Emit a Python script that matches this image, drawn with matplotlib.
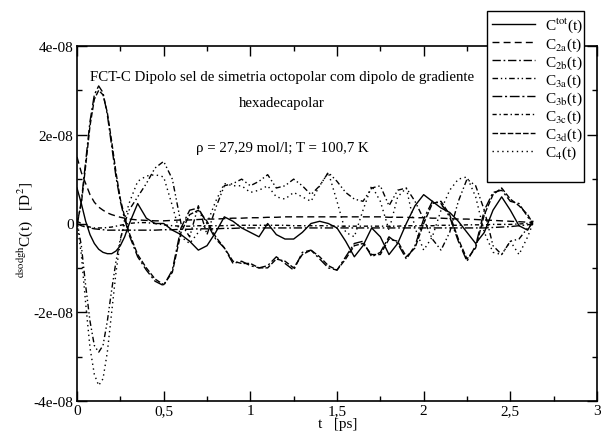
import matplotlib
matplotlib.use('Agg')
import matplotlib.pyplot as plt
from matplotlib.patches import Rectangle

plt.rcParams['font.family'] = ['Liberation Serif', 'DejaVu Serif']
plt.rcParams['mathtext.fontset'] = 'stix'

SCALE = 1e-8
t = [0, 0.025, 0.05, 0.075, 0.1, 0.125, 0.15, 0.175, 0.2, 0.225, 0.25, 0.275, 0.3,
     0.35, 0.4, 0.45, 0.5, 0.55,
     0.6, 0.65, 0.7, 0.75, 0.8, 0.85, 0.9, 0.95, 1.0, 1.05, 1.1, 1.15,
     1.2, 1.25, 1.3, 1.35, 1.4, 1.45, 1.5, 1.55, 1.6, 1.65, 1.7, 1.75,
     1.8, 1.85, 1.9, 1.95, 2.0, 2.05, 2.1, 2.15, 2.2, 2.25, 2.3, 2.35,
     2.4, 2.45, 2.5, 2.55, 2.6, 2.63]

c_tot = [0.8, 0.45, 0.05, -0.25, -0.45, -0.58, -0.65, -0.68, -0.68, -0.62, -0.5, -0.3, -0.02,
         0.45, 0.12, 0.0, 0.0, -0.15,
         -0.25, -0.4, -0.6, -0.5, -0.2, 0.15, 0.05, -0.1, -0.2, -0.3, 0.0, -0.25,
         -0.35, -0.35, -0.2, 0.0, 0.05, 0.0, -0.1, -0.4, -0.75, -0.5, -0.1, -0.3,
         -0.7, -0.45, 0.0, 0.4, 0.65, 0.5, 0.35, 0.25, 0.05, -0.2, -0.45, -0.2,
         0.3, 0.6, 0.3, -0.05, -0.15, 0.05]

c_2a = [1.5, 1.15, 0.9, 0.65, 0.48, 0.37, 0.3, 0.24, 0.2, 0.17, 0.14, 0.12, 0.1,
        0.08, 0.07, 0.06, 0.06, 0.07,
        0.08, 0.08, 0.09, 0.1, 0.1, 0.11, 0.12, 0.12, 0.13, 0.13, 0.14, 0.14,
        0.15, 0.15, 0.15, 0.15, 0.15, 0.15, 0.15, 0.15, 0.15, 0.15, 0.15, 0.15,
        0.14, 0.14, 0.14, 0.13, 0.13, 0.12, 0.12, 0.11, 0.1, 0.1, 0.09, 0.08,
        0.07, 0.06, 0.05, 0.04, 0.03, 0.02]

c_2b = [0.0, -0.05, -0.08, -0.1, -0.12, -0.13, -0.14, -0.15, -0.15, -0.15, -0.15, -0.15, -0.15,
        -0.15, -0.15, -0.15, -0.14, -0.14,
        -0.13, -0.13, -0.12, -0.12, -0.12, -0.11, -0.11, -0.1, -0.1, -0.1, -0.1, -0.1,
        -0.1, -0.1, -0.1, -0.1, -0.1, -0.1, -0.1, -0.1, -0.1, -0.1, -0.1, -0.1,
        -0.1, -0.1, -0.1, -0.1, -0.1, -0.1, -0.1, -0.1, -0.1, -0.1, -0.1, -0.1,
        -0.09, -0.08, -0.07, -0.05, -0.03, 0.0]

c_3a = [0.05, -0.5, -1.4, -2.2, -2.75, -2.9, -2.75, -2.2, -1.5, -0.85, -0.35, 0.0, 0.3,
        0.6, 0.9, 1.25, 1.4, 1.0,
        0.0, -0.3, 0.4, -0.25, 0.35, 0.85, 0.9, 1.0, 0.85, 0.95, 1.1, 0.8,
        0.85, 1.0, 0.85, 0.65, 0.85, 1.15, 0.95, 0.7, 0.55, 0.5, 0.8, 0.85,
        0.4, 0.75, 0.8, 0.5, 0.1, -0.35, -0.6, -0.2, 0.5, 1.0, 0.85, 0.3,
        -0.5, -0.7, -0.4, -0.35, -0.1, 0.0]

c_3b = [-0.05, 0.5, 1.4, 2.3, 2.9, 3.1, 2.95, 2.45, 1.75, 1.05, 0.5, 0.1, -0.25,
        -0.75, -1.05, -1.3, -1.4, -1.05,
        -0.1, 0.3, 0.35, 0.0, -0.35, -0.55, -0.9, -0.85, -0.95, -1.0, -0.95, -0.75,
        -0.9, -1.05, -0.65, -0.6, -0.8, -1.0, -1.05, -0.75, -0.45, -0.4, -0.75, -0.65,
        -0.3, -0.45, -0.8, -0.5, 0.1, 0.5, 0.45, 0.15, -0.4, -0.85, -0.5, 0.3,
        0.7, 0.75, 0.5, 0.45, 0.15, 0.0]

c_3c = [0.05, 0.0, -0.05, -0.08, -0.1, -0.1, -0.1, -0.09, -0.08, -0.06, -0.04, -0.02, 0.0,
        0.02, 0.02, 0.0, -0.03, -0.05,
        -0.06, -0.06, -0.05, -0.05, -0.05, -0.05, -0.04, -0.04, -0.04, -0.04, -0.04, -0.04,
        -0.04, -0.05, -0.05, -0.05, -0.05, -0.05, -0.06, -0.06, -0.06, -0.06, -0.06, -0.06,
        -0.06, -0.06, -0.05, -0.05, -0.05, -0.05, -0.04, -0.04, -0.04, -0.03, -0.03, -0.03,
        -0.02, -0.02, -0.02, -0.01, 0.0, 0.0]

c_3d = [0.0, 0.45, 1.3, 2.2, 2.8, 3.0, 2.9, 2.5, 1.85, 1.15, 0.55, 0.15, -0.2,
        -0.7, -1.0, -1.25, -1.38, -1.1,
        -0.2, 0.2, 0.3, 0.05, -0.3, -0.55, -0.85, -0.9, -0.9, -1.0, -1.0, -0.8,
        -0.85, -1.0, -0.7, -0.6, -0.75, -0.95, -1.05, -0.8, -0.5, -0.45, -0.7, -0.7,
        -0.35, -0.4, -0.75, -0.55, 0.0, 0.45, 0.5, 0.2, -0.35, -0.8, -0.55, 0.2,
        0.65, 0.8, 0.55, 0.4, 0.2, 0.0]

c_4 = [0.0, -0.7, -1.8, -2.8, -3.4, -3.65, -3.5, -2.9, -2.0, -1.1, -0.4, 0.1, 0.45,
       0.95, 1.07, 1.1, 1.05, 0.4,
       -0.3, -0.45, -0.2, 0.0, 0.5, 0.9, 0.85, 0.85, 0.7, 0.75, 0.85, 0.6,
       0.55, 0.7, 0.6, 0.5, 0.85, 1.15, 0.5, -0.2, -0.3, 0.3, 0.85, 0.5,
       -0.15, 0.6, 0.8, -0.1, -0.6, -0.3, 0.3, 0.75, 1.0, 1.05, 0.6, -0.2,
       -0.65, -0.7, -0.4, -0.7, -0.3, 0.0]

labels = [r'C$^{\rm tot}$(t)', r'C$_{\rm 2a}$(t)', r'C$_{\rm 2b}$(t)', r'C$_{\rm 3a}$(t)',
          r'C$_{\rm 3b}$(t)', r'C$_{\rm 3c}$(t)', r'C$_{\rm 3d}$(t)', r'C$_{\rm 4}$(t)']
series = [c_tot, c_2a, c_2b, c_3a, c_3b, c_3c, c_3d, c_4]

xticks = [0, 0.5, 1, 1.5, 2, 2.5, 3]
xticklabels = ['0', '0,5', '1', '1,5', '2', '2,5', '3']
yticks = [-4e-8, -2e-8, 0, 2e-8, 4e-8]
yticklabels = ['-4e-08', '-2e-08', '0', '2e-08', '4e-08']

styles = ['-', (0, (5, 3)), (0, (6, 2, 1.2, 2)), (0, (4, 2, 1, 2, 1, 2)),
          (0, (7, 2, 1.5, 2)), (0, (3, 2, 1, 2)), (0, (4, 1.5)), (0, (1, 2.5))]

W, H = 601, 435
fig = plt.figure(figsize=(W / 100, H / 100), dpi=100)
ax = fig.add_axes([77 / W, 1 - 402 / H, (597 - 77) / W, (402 - 47) / H])

handles = []
for ys, ls, lab in zip(series, styles, labels):
    h, = ax.plot(t, [v * SCALE for v in ys], color='black', lw=1.0, linestyle=ls, label=lab)
    handles.append(h)

ax.set_xlim(0, 3)
ax.set_ylim(-4e-8, 4e-8)
ax.set_xticks(xticks)
ax.set_xticklabels(xticklabels)
ax.set_yticks(yticks)
ax.set_yticklabels(yticklabels)
ax.set_xticks([0.25, 0.75, 1.25, 1.75, 2.25, 2.75], minor=True)
ax.set_yticks([-3e-8, -1e-8, 1e-8, 3e-8], minor=True)
ax.tick_params(which='both', direction='in', top=True, right=True, width=1.0, labelsize=11, pad=2.5)
ax.tick_params(which='major', length=7)
ax.tick_params(which='minor', length=3.5)
for s in ax.spines.values():
    s.set_linewidth(1.2)

ax.text(0.394, 0.915, 'FCT-C Dipolo sel de simetria octopolar com dipolo de gradiente',
        transform=ax.transAxes, ha='center', va='center', fontsize=10.7)
ax.text(0.394, 0.842, 'hexadecapolar', transform=ax.transAxes, ha='center', va='center', fontsize=10.7)
ax.text(0.394, 0.715, 'ρ = 27,29 mol/l; T = 100,7 K', transform=ax.transAxes,
        ha='center', va='center', fontsize=10.7)

fig.text(338 / W, 1 - 425 / H, 't   [ps]', ha='center', va='center', fontsize=11)
fig.text(25 / W, 1 - 230 / H, r'$^{\rm dsodgh}$C(t)   [D$^{\rm 2}$]', rotation=90,
         ha='center', va='center', fontsize=11)

# legend box (Grace style, extra room at the bottom)
fig.patches.append(Rectangle((487 / W, 1 - 183 / H), (584 - 487) / W, (183 - 12) / H,
                             transform=fig.transFigure, facecolor='white',
                             edgecolor='black', linewidth=1.0, zorder=5))
leg = fig.legend(handles=handles, loc='upper left', bbox_to_anchor=(492 / W, 1 - 17 / H),
                 frameon=False, fontsize=11, handlelength=2.8, handletextpad=0.65,
                 labelspacing=0.05, borderpad=0.0, borderaxespad=0)
leg.set_zorder(6)

fig.savefig('out.png', dpi=100)
